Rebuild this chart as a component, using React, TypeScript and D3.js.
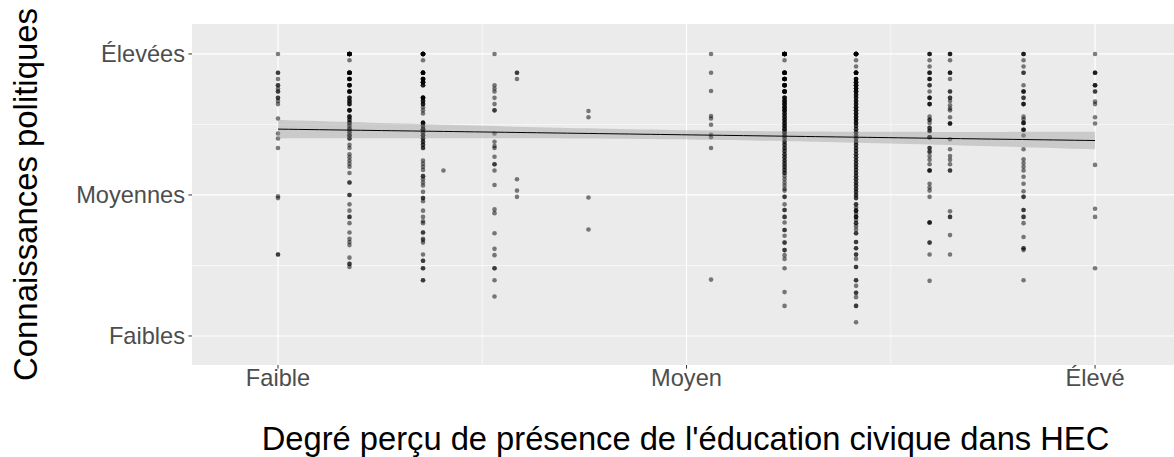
import React, { useEffect, useRef } from "react";
import * as d3 from "d3";

// x position of each column of answers (Faible = 1, Moyen = 3, Élevé = 5)
const columnX = [1, 1.35, 1.71, 1.81, 2.06, 2.17, 2.52, 3.12, 3.48, 3.83, 4.19, 4.29, 4.65, 5];

// knowledge scores per column, as [score, number of respondents]
const colA = [[45,1],[42,2],[41,1],[40,2],[39.5,1],[39,2],[38,2],[37.5,1],[37,1],[34.7,1],[32.3,1],[31.5,1],[30,1],[22.3,1],[22,1],[13,2]];
const colB = [[45,12],[44,1],[42,8],[41,5],[40,5],[39,5],[38,3],[37.5,3],[37,3],[36,4],[35,3],[34.5,2],[34,3],[33.5,2],[33,3],[32.5,2],[32,3],[31.5,2],[30.5,1],[30,1],[29,1],[28.5,1],[28,1],[27.5,1],[27,1],[26,1],[24.5,2],[22.5,2],[21,1],[20,1],[19,2],[18,1],[16.5,1],[15.5,1],[15,1],[14.5,1],[12.5,1],[11.5,2],[11,1]];
const colC = [[45,12],[44,1],[42,7],[41,6],[40.5,5],[40,3],[38,6],[37.5,3],[37,3],[36.5,1],[36,1],[35.5,1],[34,4],[33.5,2],[33,4],[32.5,2],[32,3],[31.5,2],[31,2],[30.5,2],[30,2],[28,1],[27.5,1],[27,1],[26.5,1],[25.5,2],[25,1],[24.5,1],[24,1],[23,1],[22,2],[21.5,1],[20,1],[19,1],[18.3,1],[18,1],[16.5,2],[15.5,1],[15.3,1],[14.9,1],[13,1],[12,2],[10.8,2],[8.9,2]];
const colC2 = [[26.4,1]];
const colD = [[45,1],[40,1],[39.5,1],[39,1],[38,1],[37,1],[36,2],[32.3,1],[31,1],[30.3,1],[30,1],[28.6,1],[27.4,2],[26.4,1],[24.1,1],[20.2,1],[19.6,1],[16.4,1],[13.9,1],[12.9,1],[10.8,2],[8.9,1],[6.3,1]];
const colE = [[42,2],[41,1],[25,1],[23.2,1],[22.2,1]];
const colF = [[35.9,1],[34.9,1],[22.1,1],[17,1]];
const colG = [[45,1],[42,1],[39.1,1],[35.1,1],[34.7,1],[33.7,1],[32.1,1],[31.7,1],[30,1],[9,1]];
const colH = [[45,14],[44,1],[42,8],[41,7],[40,7],[39,7],[38,4],[37.5,4],[37,4],[36.5,4],[36,4],[35.5,3],[35,3],[34.5,3],[34,3],[33.5,3],[33,3],[32.5,3],[32,3],[31.5,2],[31,2],[30.5,2],[30,2],[29.5,2],[29,2],[28.5,2],[28,2],[27.5,2],[27,2],[26.5,2],[26,2],[25.5,1],[25,1],[24.5,1],[24,1],[23.5,1],[23.2,1],[22.2,2],[21,1],[20.1,2],[19,2],[18.1,1],[16.9,2],[16,1],[14.9,2],[13.7,2],[12.9,1],[12.3,1],[10.8,1],[7,1],[4.8,1]];
const colI = [[45,14],[44,1],[43,1],[42,8],[41,4],[40.5,4],[40,4],[39.5,4],[39,4],[38.5,3],[38,3],[37.5,3],[37,3],[36.5,3],[36,3],[35.5,3],[35,3],[34.5,3],[34,3],[33.5,2],[33,2],[32.5,2],[32,2],[31.5,2],[31,2],[30.5,2],[30,2],[29.5,2],[29,2],[28.5,2],[28,2],[27.5,2],[27,2],[26.5,2],[26,2],[25.5,2],[25,2],[24.5,2],[24,2],[23.5,2],[23,2],[22.5,2],[22,2],[21,2],[20.5,1],[20,3],[19.5,1],[19,3],[18.5,1],[18,2],[17.5,1],[17,1],[16.4,2],[15,2],[14,2],[13,2],[12.3,1],[11,2],[8.9,2],[8,1],[6.9,2],[6.2,1],[4.8,2],[2.2,1]];
const colJ = [[45,3],[44,1],[43,1],[42,3],[41,3],[40,2],[39,1],[38,3],[37,3],[35,1],[34.5,2],[34,1],[33.2,2],[32.7,2],[31.7,3],[30,2],[29.4,2],[28.7,1],[28.1,1],[27.4,1],[26.4,3],[24.3,1],[23.7,1],[23.2,1],[22.2,1],[18.1,3],[14.9,2],[13,1],[8.8,1]];
const colK = [[45,3],[44,1],[42,3],[41,1],[39,2],[38,2],[37.5,1],[36.8,1],[36.3,1],[36,1],[34.9,1],[33.9,3],[31.4,1],[29.8,1],[28.7,1],[28.1,1],[27.4,1],[26.4,2],[19.9,1],[19,2],[16.1,1],[13,1]];
const colL = [[45,3],[44,1],[43,1],[42,2],[40,1],[39,3],[38,2],[37,3],[35,1],[34.6,1],[34,3],[32.9,3],[32,1],[29.8,1],[28.2,1],[27.6,1],[27,1],[26.4,1],[25.4,1],[24.3,1],[23.1,1],[22.2,2],[20.1,2],[19,2],[18,1],[15.8,1],[14,2],[13.7,1],[8.9,1]];
const colM = [[45,1],[42,3],[40,3],[39,2],[37.4,1],[37,1],[34.9,1],[33.9,1],[27.3,1],[20.3,1],[19,1],[10.8,1]];

const columns = [colA, colB, colC, colC2, colD, colE, colF, colG, colH, colI, colJ, colK, colL, colM];

const xTicks = [1, 3, 5];
const xTickLabels = ["Faible", "Moyen", "Élevé"];
const xMinor = [2, 4];
const yTicks = [0, 22.5, 45];
const yTickLabels = ["Faibles", "Moyennes", "Élevées"];
const yMinor = [11.25, 33.75];

const W = 1174;
const H = 457;
const FONT = "'Liberation Sans', Arial, Helvetica, sans-serif";

const App = () => {
  const ref = useRef<SVGSVGElement | null>(null);

  useEffect(() => {
    const svg = d3.select(ref.current);
    svg.selectAll("*").remove();

    const panel = { left: 192, right: 1179, top: 24, bottom: 365 };
    const x = d3.scaleLinear().domain([0.579, 5.411]).range([panel.left, panel.right]);
    const y = d3.scaleLinear().domain([-4.63, 49.78]).range([panel.bottom, panel.top]);

    const points: { x: number; y: number }[] = [];
    columns.forEach((col, i) => {
      col.forEach(([score, count]) => {
        for (let k = 0; k < count; k++) points.push({ x: columnX[i], y: score });
      });
    });

    svg
      .append("rect")
      .attr("x", panel.left)
      .attr("y", panel.top)
      .attr("width", panel.right - panel.left)
      .attr("height", panel.bottom - panel.top)
      .attr("fill", "#EBEBEB");

    const grid = svg.append("g").attr("stroke", "#FFFFFF");
    // minor grid
    xMinor.forEach((v) =>
      grid.append("line").attr("x1", x(v)).attr("x2", x(v)).attr("y1", panel.top).attr("y2", panel.bottom).attr("stroke-width", 0.6)
    );
    yMinor.forEach((v) =>
      grid.append("line").attr("x1", panel.left).attr("x2", panel.right).attr("y1", y(v)).attr("y2", y(v)).attr("stroke-width", 0.6)
    );
    // major grid
    xTicks.forEach((v) =>
      grid.append("line").attr("x1", x(v)).attr("x2", x(v)).attr("y1", panel.top).attr("y2", panel.bottom).attr("stroke-width", 1.2)
    );
    yTicks.forEach((v) =>
      grid.append("line").attr("x1", panel.left).attr("x2", panel.right).attr("y1", y(v)).attr("y2", y(v)).attr("stroke-width", 1.2)
    );

    svg
      .append("g")
      .selectAll("circle")
      .data(points)
      .join("circle")
      .attr("cx", (d) => x(d.x))
      .attr("cy", (d) => y(d.y))
      .attr("r", 2.3)
      .attr("fill", "black")
      .attr("fill-opacity", 0.5);

    // linear fit with 95% confidence band (like geom_smooth(method = "lm"))
    const n = points.length;
    const xbar = d3.mean(points, (d) => d.x) as number;
    const ybar = d3.mean(points, (d) => d.y) as number;
    const sxx = d3.sum(points, (d) => (d.x - xbar) ** 2);
    const sxy = d3.sum(points, (d) => (d.x - xbar) * (d.y - ybar));
    const slope = sxy / sxx;
    const intercept = ybar - slope * xbar;
    const rss = d3.sum(points, (d) => (d.y - intercept - slope * d.x) ** 2);
    const s = Math.sqrt(rss / (n - 2));
    const tCrit = 1.966;
    const [x0, x1] = d3.extent(points, (d) => d.x) as [number, number];
    const fit = d3.range(80).map((i) => {
      const xv = x0 + (i * (x1 - x0)) / 79;
      const yv = intercept + slope * xv;
      const se = s * Math.sqrt(1 / n + (xv - xbar) ** 2 / sxx);
      return { x: xv, y: yv, lo: yv - tCrit * se, hi: yv + tCrit * se };
    });

    svg
      .append("path")
      .datum(fit)
      .attr(
        "d",
        d3
          .area<{ x: number; lo: number; hi: number }>()
          .x((d) => x(d.x))
          .y0((d) => y(d.lo))
          .y1((d) => y(d.hi))
      )
      .attr("fill", "#999999")
      .attr("fill-opacity", 0.4);

    svg
      .append("path")
      .datum(fit)
      .attr(
        "d",
        d3
          .line<{ x: number; y: number }>()
          .x((d) => x(d.x))
          .y((d) => y(d.y))
      )
      .attr("fill", "none")
      .attr("stroke", "black")
      .attr("stroke-width", 1);

    // axes
    const axes = svg.append("g").attr("font-family", FONT);
    xTicks.forEach((v, i) => {
      axes.append("line").attr("x1", x(v)).attr("x2", x(v)).attr("y1", panel.bottom).attr("y2", panel.bottom + 3.6).attr("stroke", "#333333").attr("stroke-width", 1);
      axes
        .append("text")
        .attr("x", x(v))
        .attr("y", 385.5)
        .attr("text-anchor", "middle")
        .attr("font-size", 23.6)
        .attr("fill", "#4D4D4D")
        .text(xTickLabels[i]);
    });
    yTicks.forEach((v, i) => {
      axes.append("line").attr("x1", panel.left - 3.6).attr("x2", panel.left).attr("y1", y(v)).attr("y2", y(v)).attr("stroke", "#333333").attr("stroke-width", 1);
      axes
        .append("text")
        .attr("x", 185)
        .attr("y", y(v))
        .attr("dy", "0.35em")
        .attr("text-anchor", "end")
        .attr("font-size", 23.6)
        .attr("fill", "#4D4D4D")
        .text(yTickLabels[i]);
    });

    axes
      .append("text")
      .attr("x", 685.5)
      .attr("y", 450)
      .attr("text-anchor", "middle")
      .attr("font-size", 32.7)
      .attr("fill", "black")
      .text("Degré perçu de présence de l'éducation civique dans HEC");

    axes
      .append("text")
      .attr("transform", `translate(36.5,${(panel.top + panel.bottom) / 2}) rotate(-90)`)
      .attr("text-anchor", "middle")
      .attr("font-size", 32.9)
      .attr("fill", "black")
      .text("Connaissances politiques");
  }, []);

  return (
    <svg
      ref={ref}
      width={W}
      height={H}
      style={{ position: "absolute", left: 0, top: 0, background: "white" }}
    />
  );
};

export default App;
